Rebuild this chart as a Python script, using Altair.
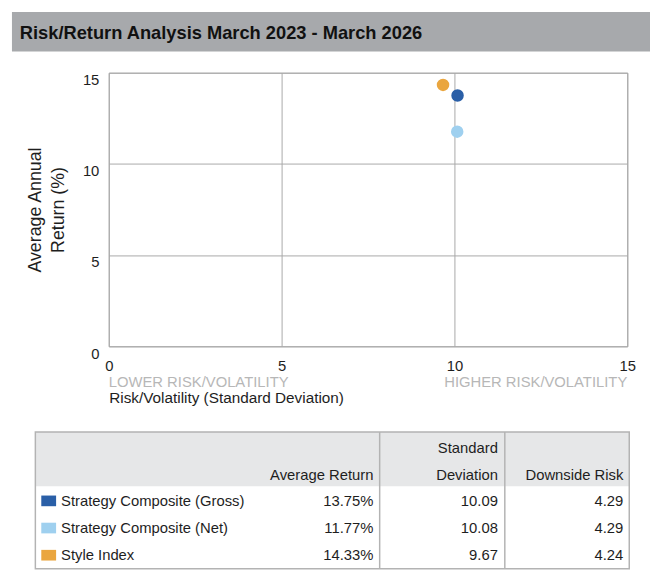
import altair as alt
import pandas as pd

# ---------------- data ----------------
series = ["Strategy Composite (Gross)", "Strategy Composite (Net)", "Style Index"]
colors = ["#2a5fa7", "#9fd0ef", "#eaa63f"]
avg_return = [13.75, 11.77, 14.33]
std_dev = [10.09, 10.08, 9.67]
downside = [4.29, 4.29, 4.24]
x_ticks = [0, 5, 10, 15]
y_ticks = [0, 5, 10, 15]
title_text = "Risk/Return Analysis March 2023 - March 2026"
y_title = ["Average Annual", "Return (%)"]
x_title = "Risk/Volatility (Standard Deviation)"
low_label = "LOWER RISK/VOLATILITY"
high_label = "HIGHER RISK/VOLATILITY"
headers = ["Average Return", "Standard\nDeviation", "Downside Risk"]

df = pd.DataFrame({"series": series, "sd": std_dev, "ret": avg_return, "dr": downside})
df["ret_txt"] = [f"{v:.2f}%" for v in avg_return]
df["sd_txt"] = [f"{v:.2f}" for v in std_dev]
df["dr_txt"] = [f"{v:.2f}" for v in downside]
one = pd.DataFrame({"k": [0]})

# ---------------- layout / style ----------------
W, H = 525, 277
FONT = "Liberation Sans"
GRID = "#a9a9a9"
TXT = "#1e1e1e"
FS = 15

T_L, T_R = -74.3, 527
T_TOP, T_HEAD, T_BOT = 363.8, 418.8, 502.2
DIVIDERS = [274.3, 401]
COL_R = [268, 394, 521]
LABEL_X = -48.3
SW_X = -60.8
ROW_RANGE = [433.5, 488.5]

color_scale = alt.Scale(domain=series, range=colors)
xs = alt.Scale(domain=[0, 15], nice=False)
ys = alt.Scale(domain=[0, 15], nice=False)


def box(x, x2, y, y2, **kw):
    return alt.Chart(one).mark_rect(**kw).encode(
        x=alt.value(x), x2=alt.value(x2), y=alt.value(y), y2=alt.value(y2)
    )


def label(text, x, y, **kw):
    return alt.Chart(one).mark_text(text=text, font=FONT, **kw).encode(
        x=alt.value(x), y=alt.value(y))


layers = []

# title bar
layers.append(box(-98, 548, -61.5, -21.5, color="#a7a9ac"))
layers.append(label(title_text, -90, -34.5, fontWeight="bold", fontSize=18.5,
                    align="left", baseline="alphabetic", color="#111111"))

# scatter
points = alt.Chart(df).mark_circle(size=160, opacity=1).encode(
    x=alt.X("sd:Q", scale=xs, axis=alt.Axis(
        values=x_ticks, title=x_title, grid=True, gridColor=GRID, domain=False, ticks=False,
        tickSize=0, labelFlush=False, labelFont=FONT, labelFontSize=15, labelColor=TXT,
        labelPadding=12, titleFont=FONT, titleFontSize=15.5, titleFontWeight="normal",
        titleColor=TXT, titleX=0, titleY=57, titleAlign="left", titleBaseline="alphabetic",
        titleAnchor="start")),
    y=alt.Y("ret:Q", scale=ys, axis=alt.Axis(
        values=y_ticks, title=y_title, grid=True, gridColor=GRID, domain=False, ticks=False,
        tickSize=0, labelFont=FONT, labelFontSize=15, labelColor=TXT, labelBaseline="top",
        labelPadding=10, titleFont=FONT, titleFontSize=18, titleFontWeight="normal",
        titleColor=TXT, titleX=-65, titleY=H / 2, titleAlign="center",
        titleBaseline="bottom", titleLineHeight=23)),
    color=alt.Color("series:N", scale=color_scale, legend=None),
)
layers.append(points)

layers.append(label(low_label, 0, 318.5, fontSize=FS, color="#b7b7b7",
                    align="left", baseline="alphabetic"))
layers.append(label(high_label, W, 318.5, fontSize=FS, color="#b7b7b7",
                    align="right", baseline="alphabetic"))

# table
layers.append(box(T_L, T_R, T_TOP, T_HEAD, color="#e6e7e8"))
for d in DIVIDERS:
    layers.append(alt.Chart(one).mark_rule(color="#b3b3b3", strokeWidth=1.5).encode(
        x=alt.value(d), y=alt.value(T_TOP), y2=alt.value(T_BOT)))
layers.append(box(T_L, T_R, T_TOP, T_BOT, filled=False, color="#b3b3b3", strokeWidth=1.5))

layers.append(label(headers[0], COL_R[0], 412.5, fontSize=FS, color=TXT,
                    align="right", baseline="alphabetic"))
layers.append(label(headers[1], COL_R[1], 385.5, fontSize=FS, color=TXT,
                    align="right", baseline="alphabetic", lineBreak="\n", lineHeight=27))
layers.append(label(headers[2], COL_R[2], 412.5, fontSize=FS, color=TXT,
                    align="right", baseline="alphabetic"))

row_y = alt.Y("series:N", scale=alt.Scale(type="point", domain=series, range=ROW_RANGE,
                                          padding=0), axis=None)

layers.append(alt.Chart(df).mark_point(shape="M-1,-0.72H1V0.72H-1Z", filled=True, size=225,
                                       opacity=1, strokeWidth=0).encode(
    x=alt.value(SW_X), y=row_y, color=alt.Color("series:N", scale=color_scale, legend=None)))
layers.append(alt.Chart(df).mark_text(align="left", baseline="middle", font=FONT, fontSize=FS,
                                      color=TXT).encode(
    x=alt.value(LABEL_X), y=row_y, text="series:N"))
for field, xr in zip(["ret_txt", "sd_txt", "dr_txt"], COL_R):
    layers.append(alt.Chart(df).mark_text(align="right", baseline="middle", font=FONT,
                                          fontSize=FS, color=TXT).encode(
        x=alt.value(xr), y=row_y, text=f"{field}:N"))

chart = alt.layer(*layers).resolve_scale(y="independent").properties(
    width=W, height=H,
    padding={"left": 4, "top": 0, "right": 0, "bottom": 0},
    background="white",
).configure_view(stroke=GRID, strokeWidth=1)

chart.save("out.html", embed_options={"renderer": "svg", "actions": False})
